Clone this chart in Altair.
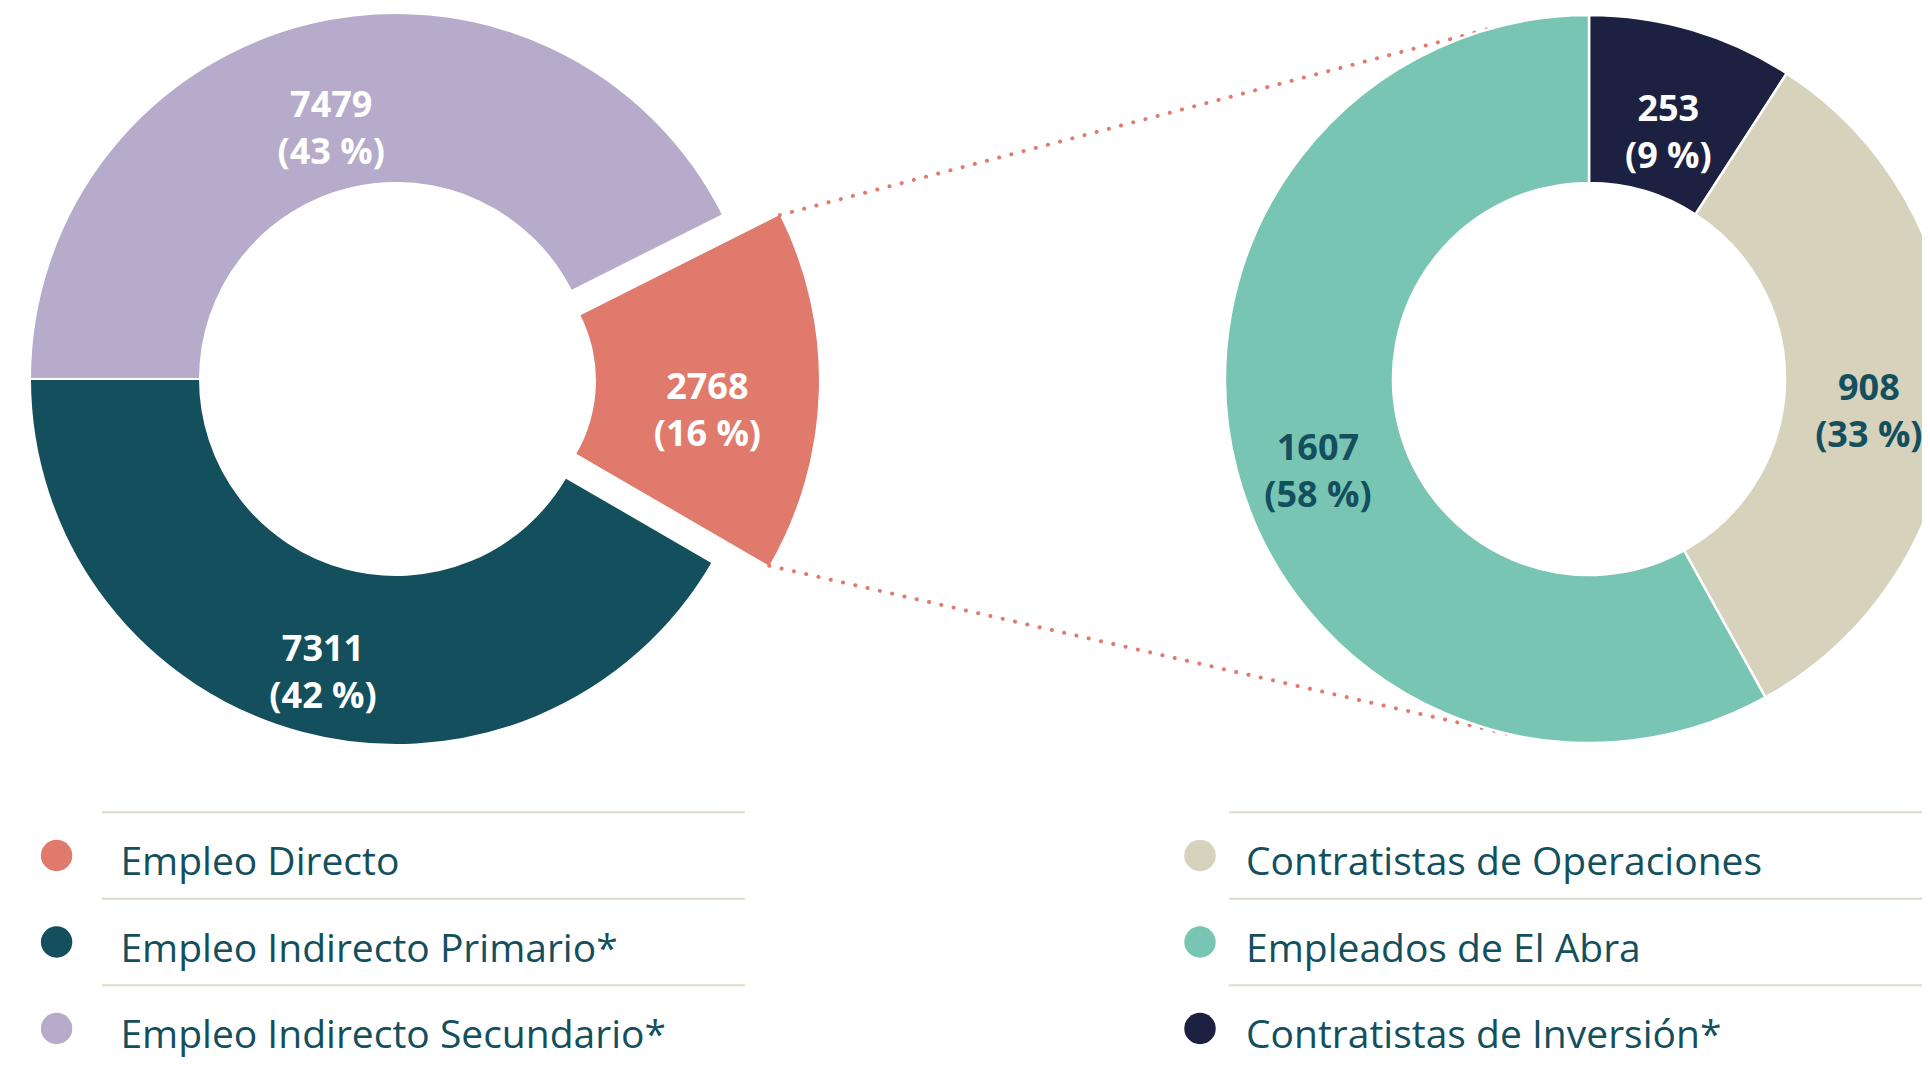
import math
import altair as alt
import pandas as pd

# ---------------- data ----------------
left_cats = ["Empleo Directo", "Empleo Indirecto Primario*", "Empleo Indirecto Secundario*"]
left_vals = [2768, 7311, 7479]
left_colors = ["#E07A6C", "#134F5C", "#B6ABCB"]
left_arc_order = ["Empleo Indirecto Secundario*", "Empleo Directo", "Empleo Indirecto Primario*"]

right_cats = ["Contratistas de Operaciones", "Empleados de El Abra", "Contratistas de Inversión*"]
right_vals = [908, 1607, 253]
right_colors = ["#D7D2BB", "#79C5B4", "#1C2142"]
right_arc_order = ["Contratistas de Inversión*", "Contratistas de Operaciones", "Empleados de El Abra"]

exploded = "Empleo Directo"
dark_label_cats = ["Contratistas de Operaciones", "Empleados de El Abra"]

# ---------------- layout ----------------
W, H = 1914, 1050
DARK = "#134F5C"
CORAL = "#E07A6C"
FONT = "Open Sans"

CLX, CLY = 388, 371          # left donut centre
CRX, CRY = 1581, 371         # right donut centre
L_IN, L_OUT = 196, 366
E_IN, E_OUT, E_OFF = 146, 369, 54
R_IN, R_OUT = 196, 364
L_START = 1.5 * math.pi
R_START = 0.0


def arc_table(cats, vals, order):
    total = sum(vals)
    rows, cum = [], 0
    for c in order:
        v = vals[cats.index(c)]
        s = cum / total
        cum += v
        e = cum / total
        pct = int(v / total * 100 + 0.5)
        rows.append(dict(cat=c, value=v, start=s, end=e, mid=(s + e) / 2,
                         label=f"{v}\n({pct} %)"))
    return pd.DataFrame(rows)


left_df = arc_table(left_cats, left_vals, left_arc_order)
right_df = arc_table(right_cats, right_vals, right_arc_order)

# exploded slice geometry (derived from data)
ex = left_df[left_df.cat == exploded].iloc[0]
a_mid = L_START + ex["mid"] * 2 * math.pi
EX_X = CLX + E_OFF * math.sin(a_mid)
EX_Y = CLY - E_OFF * math.cos(a_mid)


def corner(frac):
    a = L_START + frac * 2 * math.pi
    return EX_X + E_OUT * math.sin(a), EX_Y - E_OUT * math.cos(a)


def tangent(px, py, sign):
    dx, dy = CRX - px, CRY - py
    d = math.hypot(dx, dy)
    alpha = math.asin(R_OUT / d) * sign
    L = math.sqrt(d * d - R_OUT * R_OUT)
    ux, uy = dx / d, dy / d
    rx = ux * math.cos(alpha) - uy * math.sin(alpha)
    ry = ux * math.sin(alpha) + uy * math.cos(alpha)
    return px + L * rx, py + L * ry


p1 = corner(ex["start"])
p2 = corner(ex["end"])
t1 = tangent(*p1, -1)
t2 = tangent(*p2, +1)
conn_df = pd.DataFrame([
    dict(x=p1[0], y=p1[1], x2=t1[0], y2=t1[1]),
    dict(x=p2[0], y=p2[1], x2=t2[0], y2=t2[1]),
])

# legend tables
ROW = 86.5
LINE0 = 804.3
legend_rows, sep_rows = [], []
for side, cats, cx, tx, lx1, lx2 in [
    ("L", left_cats, 48.6, 112.4, 94, 737),
    ("R", right_cats, 1192, 1238, 1221, W),
]:
    for i, c in enumerate(cats):
        top = LINE0 + i * ROW
        legend_rows.append(dict(cat=c, cx=cx, cy=top + 43.2, tx=tx, ty=top + 62.7))
        sep_rows.append(dict(x=lx1, x2=lx2, y=top))
legend_df = pd.DataFrame(legend_rows)
sep_df = pd.DataFrame(sep_rows)

# ---------------- encodings ----------------
color_enc = alt.Color("cat:N",
                      scale=alt.Scale(domain=left_cats + right_cats,
                                      range=left_colors + right_colors),
                      legend=None)
thetaL = alt.Scale(domain=[0, 1], range=[L_START, L_START + 2 * math.pi])
thetaR = alt.Scale(domain=[0, 1], range=[R_START, R_START + 2 * math.pi])

left_main_df = left_df[left_df.cat != exploded]
left_ex_df = left_df[left_df.cat == exploded]

left_arcs = alt.Chart(left_main_df).mark_arc(
    innerRadius=L_IN, outerRadius=L_OUT, stroke="white", strokeWidth=2
).encode(
    theta=alt.Theta("start:Q", scale=thetaL), theta2="end:Q",
    color=color_enc, x=alt.value(CLX), y=alt.value(CLY)
)
left_ex_arc = alt.Chart(left_ex_df).mark_arc(
    innerRadius=E_IN, outerRadius=E_OUT
).encode(
    theta=alt.Theta("start:Q", scale=thetaL), theta2="end:Q",
    color=color_enc, x=alt.value(EX_X), y=alt.value(EX_Y)
)

label_style = dict(font=FONT, fontSize=36, fontWeight="bold", lineBreak="\n",
                   lineHeight=47, align="center", baseline="middle")

left_labels = alt.Chart(left_main_df).mark_text(
    radius=(L_IN + L_OUT) / 2, color="white", **label_style
).encode(
    theta=alt.Theta("mid:Q", scale=thetaL), text="label:N",
    x=alt.value(CLX), y=alt.value(CLY)
)
left_ex_label = alt.Chart(left_ex_df).mark_text(
    radius=(E_IN + E_OUT) / 2, color="white", **label_style
).encode(
    theta=alt.Theta("mid:Q", scale=thetaL), text="label:N",
    x=alt.value(EX_X), y=alt.value(EX_Y)
)

right_arcs = alt.Chart(right_df).mark_arc(
    innerRadius=R_IN, outerRadius=R_OUT, stroke="white", strokeWidth=2.5, clip=True
).encode(
    theta=alt.Theta("start:Q", scale=thetaR), theta2="end:Q",
    color=color_enc, x=alt.value(CRX), y=alt.value(CRY)
)
right_labels = alt.Chart(right_df).mark_text(
    radius=(R_IN + R_OUT) / 2, clip=True, **label_style
).encode(
    theta=alt.Theta("mid:Q", scale=thetaR), text="label:N",
    color=alt.condition(alt.FieldOneOfPredicate(field="cat", oneOf=dark_label_cats),
                        alt.value(DARK), alt.value("white")),
    x=alt.value(CRX), y=alt.value(CRY)
)

connectors = alt.Chart(conn_df).mark_rule(
    color=CORAL, strokeWidth=4, strokeDash=[0.1, 12.5], strokeCap="round"
).encode(
    x=alt.X("x:Q", scale=None, axis=None), y=alt.Y("y:Q", scale=None, axis=None),
    x2="x2:Q", y2="y2:Q"
)

separators = alt.Chart(sep_df).mark_rule(color="#DFDBC8", strokeWidth=2).encode(
    x=alt.X("x:Q", scale=None, axis=None), x2="x2:Q",
    y=alt.Y("y:Q", scale=None, axis=None)
)
legend_dots = alt.Chart(legend_df).mark_circle(size=990, opacity=1).encode(
    x=alt.X("cx:Q", scale=None, axis=None), y=alt.Y("cy:Q", scale=None, axis=None),
    color=color_enc
)
legend_text = alt.Chart(legend_df).mark_text(
    font=FONT, fontSize=39, color=DARK, align="left", baseline="alphabetic"
).encode(
    x=alt.X("tx:Q", scale=None, axis=None), y=alt.Y("ty:Q", scale=None, axis=None),
    text="cat:N"
)

chart = alt.layer(
    connectors, left_arcs, left_ex_arc, right_arcs,
    left_labels, left_ex_label, right_labels,
    separators, legend_dots, legend_text
).resolve_scale(
    theta="independent"
).properties(
    width=W, height=H, autosize=alt.AutoSizeParams(type="none"), padding=0
).configure_view(stroke=None)

chart.save("out.html", embed_options={"renderer": "svg", "actions": False})
